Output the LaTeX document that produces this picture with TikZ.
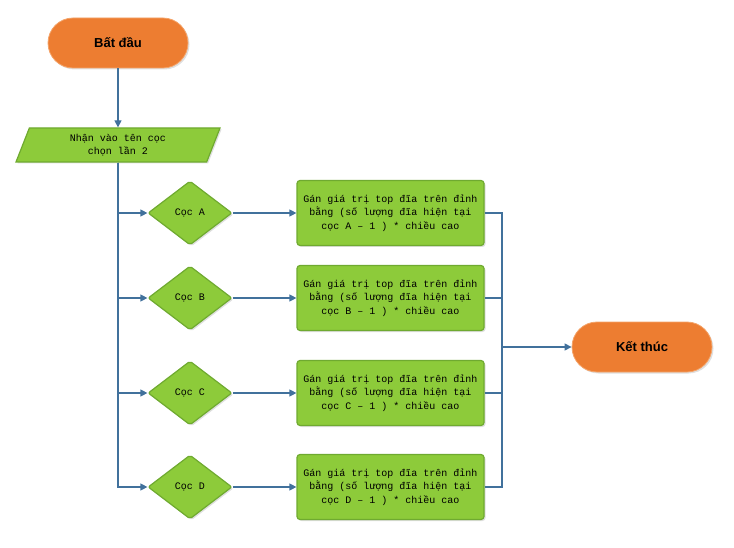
\documentclass[tikz,border=0pt]{standalone}
\usepackage{fontspec}
\setmainfont{Liberation Sans}
\setmonofont{Liberation Mono}
\usetikzlibrary{positioning, shapes.geometric, arrows.meta, shadows}

\definecolor{flowblue}{HTML}{41719C}
\definecolor{termorange}{HTML}{ED7D31}
\definecolor{termedge}{HTML}{F4A46A}
\definecolor{stepgreen}{HTML}{8DCB3A}
\definecolor{stepedge}{HTML}{6FAA30}

\tikzset{
    softshadow/.style={drop shadow={opacity=0.25, shadow xshift=1.5pt, shadow yshift=-1.5pt}},
    terminal/.style={rectangle, rounded corners=25pt, minimum width=140pt, minimum height=50pt,
        fill=termorange, draw=termedge, line width=0.8pt, softshadow,
        font=\fontsize{13}{15}\selectfont\bfseries},
    inputbox/.style={trapezium, trapezium left angle=61, trapezium right angle=119,
        trapezium stretches body=true, minimum width=204pt, minimum height=34pt, inner sep=1pt,
        fill=stepgreen, draw=stepedge, line width=1.2pt, softshadow, align=center,
        font=\ttfamily\fontsize{10}{13.3}\selectfont},
    choice/.style={diamond, minimum width=84pt, minimum height=64pt, inner sep=0pt,
        rounded corners=2pt, fill=stepgreen, draw=stepedge, line width=1.2pt, softshadow,
        font=\ttfamily\fontsize{10}{13.3}\selectfont},
    assign/.style={rectangle, rounded corners=3pt, minimum width=187pt, minimum height=65pt,
        inner sep=1pt, fill=stepgreen, draw=stepedge, line width=1.2pt, softshadow, align=center,
        font=\ttfamily\fontsize{10}{13.3}\selectfont},
    flow/.style={draw=flowblue, line width=1.2pt, -{Triangle[width=7pt,length=7pt]}},
    wire/.style={draw=flowblue, line width=1.2pt}
}

\begin{document}
\begin{tikzpicture}[x=1pt, y=-1pt]
        \useasboundingbox (0,0) rectangle (734,548);
        \node[terminal] (start) at (118,43) {Bất đầu};
        \node[inputbox] (input) at (118,145) {Nhận vào tên cọc\\chọn lần 2};
        \node[choice] (cocA) at (190,213) {Cọc A};
        \node[choice] (cocB) at (190,298) {Cọc B};
        \node[choice] (cocC) at (190,393) {Cọc C};
        \node[choice] (cocD) at (190,487) {Cọc D};
        \node[assign] (topA) at (390.5,213) {Gán giá trị top đĩa trên đỉnh\\bằng (số lượng đĩa hiện tại\\cọc A – 1 ) * chiều cao};
        \node[assign] (topB) at (390.5,298) {Gán giá trị top đĩa trên đỉnh\\bằng (số lượng đĩa hiện tại\\cọc B – 1 ) * chiều cao};
        \node[assign] (topC) at (390.5,393) {Gán giá trị top đĩa trên đỉnh\\bằng (số lượng đĩa hiện tại\\cọc C – 1 ) * chiều cao};
        \node[assign] (topD) at (390.5,487) {Gán giá trị top đĩa trên đỉnh\\bằng (số lượng đĩa hiện tại\\cọc D – 1 ) * chiều cao};
        \node[terminal] (stop) at (642,347) {Kết thúc};
        \coordinate (merge) at (502,347);
        % connectors
        \draw[flow] (start) -- (input);
        \draw[flow] (input.south) |- (cocA.west);
        \draw[flow] (input.south) |- (cocB.west);
        \draw[flow] (input.south) |- (cocC.west);
        \draw[flow] (input.south) |- (cocD.west);
        \draw[flow] (cocA) -- (topA);
        \draw[flow] (cocB) -- (topB);
        \draw[flow] (cocC) -- (topC);
        \draw[flow] (cocD) -- (topD);
        \draw[wire] (topA.east) -| (merge);
        \draw[wire] (topB.east) -| (merge);
        \draw[wire] (topC.east) -| (merge);
        \draw[wire] (topD.east) -| (merge);
        \draw[flow] (merge) -- (stop);
    \end{tikzpicture}
\end{document}
